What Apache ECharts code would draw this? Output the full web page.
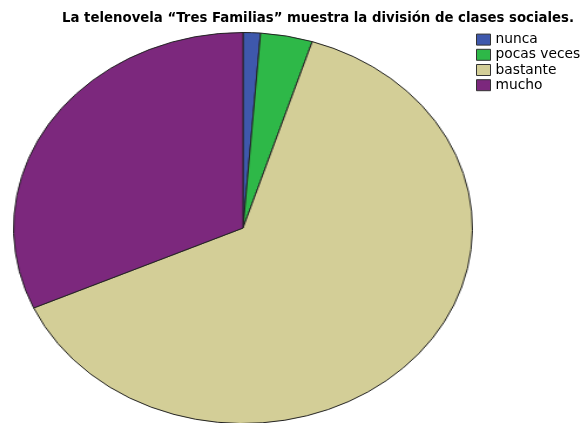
<!DOCTYPE html>
<html>
<head>
<meta charset="utf-8">
<script src="https://cdn.jsdelivr.net/npm/echarts@6/dist/echarts.min.js"></script>
<style>
  html, body { margin: 0; padding: 0; background: #fff; }
  #wrap { position: relative; width: 583px; height: 423px; overflow: hidden; }
  /* pie drawn round, then stretched into the ellipse of the original */
  #pie {
    position: absolute; left: 46.7px; top: 32px; width: 392px; height: 392px;
    transform: scaleX(1.1735); transform-origin: 50% 50%;
  }
  #labels { position: absolute; left: 0; top: 0; width: 583px; height: 423px; }
</style>
</head>
<body>
<div id="wrap">
  <div id="pie"></div>
  <div id="labels"></div>
</div>
<script>
// respuestas
var categories = ["nunca", "pocas veces", "bastante", "mucho"];
var counts = [1, 3, 52, 26];
var colors = ["#3e58ac", "#2eb848", "#d3ce97", "#7c287d"];
var titleText = "La telenovela \u201cTres Familias\u201d muestra la divisi\u00f3n de clases sociales.";

var pieData = categories.map(function (name, i) {
  return { name: name, value: counts[i], itemStyle: { color: colors[i] } };
});

var pieChart = echarts.init(document.getElementById("pie"));
pieChart.setOption({
  animation: false,
  series: [
    {
      type: "pie",
      center: ["50%", "50%"],
      radius: 195.5,
      startAngle: 90,
      clockwise: true,
      label: { show: false },
      labelLine: { show: false },
      emphasis: { disabled: true },
      itemStyle: { borderColor: "#222", borderWidth: 1 },
      data: pieData
    }
  ]
});

// title and legend on top, not stretched
let labelChart = echarts.init(document.getElementById("labels"));
labelChart.setOption({
  animation: false,
  title: {
    text: titleText,
    left: 57,
    top: 7,
    textStyle: {
      fontFamily: "DejaVu Sans",
      fontSize: 13.3,
      fontWeight: "bold",
      color: "#000"
    }
  },
  legend: {
    orient: "vertical",
    left: 476,
    top: 32,
    padding: 0,
    itemWidth: 14,
    itemHeight: 11,
    itemGap: 0,
    icon: "rect",
    itemStyle: { borderColor: "#333", borderWidth: 1 },
    textStyle: {
      fontFamily: "DejaVu Sans",
      fontSize: 13.8,
      lineHeight: 15.2,
      color: "#000"
    },
    data: categories
  },
  series: [
    {
      type: "pie",
      radius: 0,
      center: [-100, -100],
      silent: true,
      label: { show: false },
      labelLine: { show: false },
      data: pieData
    }
  ]
});
</script>
</body>
</html>
